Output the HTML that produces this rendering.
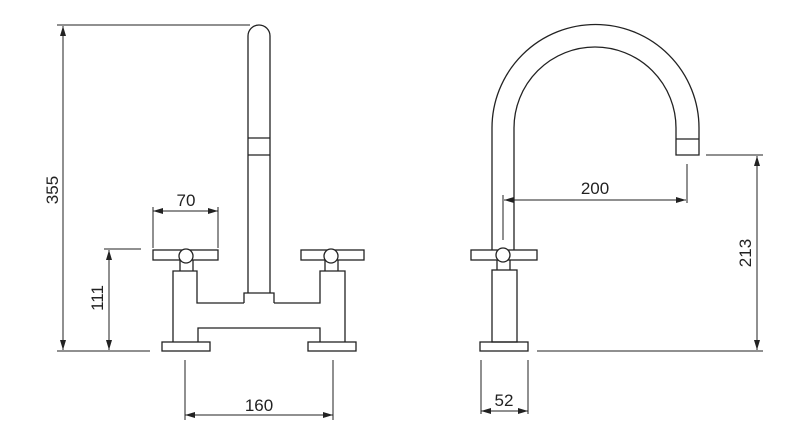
<!DOCTYPE html>
<html><head><style>body{margin:0;background:#fff}svg{display:block}</style></head><body>
<svg width="800" height="447" viewBox="0 0 800 447" xmlns="http://www.w3.org/2000/svg">
<defs>
<marker id="a" viewBox="0 0 10 6" refX="10" refY="3" markerWidth="10" markerHeight="6" orient="auto-start-reverse" markerUnits="userSpaceOnUse"><path d="M0,0L10,3L0,6z" fill="#222"/></marker>
</defs>
<g fill="none" stroke="#222" stroke-width="1.3">
<!-- left view -->
<path d="M248,293V36A11,11 0 0 1 270,36V293"/>
<line x1="248" y1="138" x2="270" y2="138"/><line x1="248" y1="155" x2="270" y2="155"/>
<path d="M244,303V293H274V303"/>
<path d="M173,342V271H197V303H244"/><path d="M274,303H320V271H345V342"/>
<path d="M198,342V328H320V342"/>
<rect x="153" y="250" width="65" height="10"/><rect x="301" y="250" width="63" height="10"/>
<path d="M180,260V271M193,260V271M325,260V271M338,260V271"/>
<circle cx="186" cy="256" r="7" fill="#fff"/><circle cx="331" cy="256" r="7" fill="#fff"/>
<rect x="162" y="342" width="48" height="9"/><rect x="308" y="342" width="48" height="9"/>
<!-- dims left -->
<line x1="57" y1="25" x2="250" y2="25" stroke-width="1"/>
<line x1="57" y1="351" x2="150" y2="351" stroke-width="1"/>
<line x1="63" y1="26" x2="63" y2="350" stroke-width="1" marker-start="url(#a)" marker-end="url(#a)"/>
<line x1="104" y1="249" x2="141" y2="249" stroke-width="1"/>
<line x1="109" y1="250" x2="109" y2="350" stroke-width="1" marker-start="url(#a)" marker-end="url(#a)"/>
<path d="M153,207V248M218,207V248" stroke-width="1"/>
<line x1="153" y1="211" x2="218" y2="211" stroke-width="1" marker-start="url(#a)" marker-end="url(#a)"/>
<path d="M185,360V420M333,360V420" stroke-width="1"/>
<line x1="185" y1="415" x2="333" y2="415" stroke-width="1" marker-start="url(#a)" marker-end="url(#a)"/>
<!-- right view -->
<path d="M492,250V128A103.5,103.5 0 0 1 699,128V155H676V128A81,81 0 0 0 514,128V250"/>
<line x1="676" y1="139" x2="699" y2="139"/>
<rect x="471" y="250" width="66" height="10"/>
<path d="M497,260V270M510,260V270"/>
<circle cx="503" cy="255" r="7" fill="#fff"/>
<rect x="492" y="270" width="25" height="72"/>
<rect x="480" y="342" width="48" height="9"/>
<path d="M503,195V240M687,164V203" stroke-width="1"/>
<line x1="504" y1="200" x2="686" y2="200" stroke-width="1" marker-start="url(#a)" marker-end="url(#a)"/>
<line x1="706" y1="155" x2="763" y2="155" stroke-width="1"/>
<line x1="537" y1="351" x2="763" y2="351" stroke-width="1"/>
<line x1="757" y1="156" x2="757" y2="350" stroke-width="1" marker-start="url(#a)" marker-end="url(#a)"/>
<path d="M481,360V414M528,360V414" stroke-width="1"/>
<line x1="481" y1="411" x2="528" y2="411" stroke-width="1" marker-start="url(#a)" marker-end="url(#a)"/>
</g>
<g font-family="Liberation Sans, sans-serif" font-size="17" fill="#222" text-anchor="middle">
<text x="186" y="206">70</text>
<text x="259" y="411">160</text>
<text x="595" y="194">200</text>
<text x="504" y="406">52</text>
<text transform="translate(58,190) rotate(-90)">355</text>
<text transform="translate(103,298) rotate(-90)">111</text>
<text transform="translate(751,253) rotate(-90)">213</text>
</g>
</svg>
</body></html>
